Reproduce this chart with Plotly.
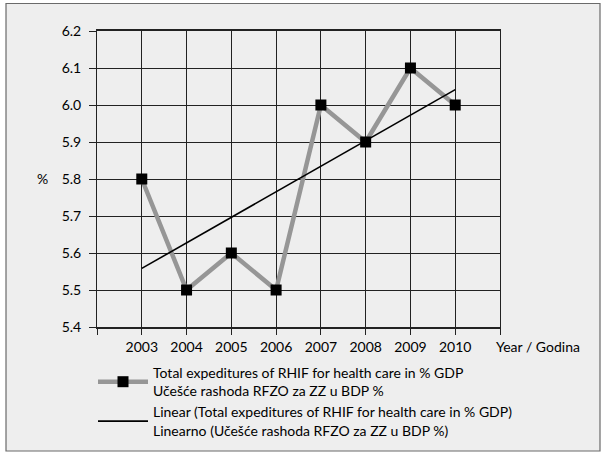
import numpy as np
import plotly.graph_objects as go

years = [2003, 2004, 2005, 2006, 2007, 2008, 2009, 2010]
values = [5.8, 5.5, 5.6, 5.5, 6.0, 5.9, 6.1, 6.0]
y_ticks = [5.4, 5.5, 5.6, 5.7, 5.8, 5.9, 6.0, 6.1, 6.2]
series_name = "Total expeditures of RHIF for health care in % GDP<br>Učešće rashoda RFZO za ZZ u BDP %"
trend_name = "Linear (Total expeditures of RHIF for health care in % GDP)<br>Linearno (Učešće rashoda RFZO za ZZ u BDP %)"
x_title = "Year / Godina"
y_title = "%"

# linear trend computed from the data
idx = np.arange(1, len(values) + 1)
coef = np.polyfit(idx, values, 1)
trend = np.polyval(coef, idx)

W, H = 605, 455
L, R, T, B = 97, 105, 31, 128
pw = W - L - R
ph = H - T - B

FONT = "Lato, 'Open Sans', sans-serif"
FS = 14

fig = go.Figure()
fig.add_trace(go.Scatter(
    x=years, y=values, mode="lines+markers", name=series_name,
    line=dict(color="#969696", width=4.5),
    marker=dict(symbol="square", size=11, color="black"),
))
fig.add_trace(go.Scatter(
    x=years, y=trend, mode="lines", name=trend_name,
    line=dict(color="black", width=1.6),
))

def px2paper_x(px):
    return (px - L) / pw

def px2paper_y(py):
    return 1 - (py - T) / ph

fig.add_shape(type="rect", xref="paper", yref="paper",
              x0=px2paper_x(6), x1=px2paper_x(600), y0=px2paper_y(451), y1=px2paper_y(3.5),
              fillcolor="#EEEEEE", line=dict(color="#6a6a6a", width=1.2), layer="below")

fig.add_annotation(text=x_title, xref="paper", yref="paper",
                   x=px2paper_x(494), y=px2paper_y(336), xanchor="left", yanchor="top",
                   showarrow=False, font=dict(size=FS, color="black", family=FONT))
fig.add_annotation(text=y_title, xref="paper", yref="paper",
                   x=px2paper_x(50), y=px2paper_y(178), xanchor="right", yanchor="middle",
                   showarrow=False, font=dict(size=FS, color="black", family=FONT))

fig.update_xaxes(
    range=[years[0] - 1, years[-1] + 1],
    tickvals=[years[0] - 1] + years + [years[-1] + 1],
    ticktext=[""] + [str(y) for y in years] + [""],
    showgrid=True, gridcolor="#222222", gridwidth=1,
    ticks="outside", ticklen=6, tickcolor="#222222",
    showline=True, linecolor="#222222", linewidth=1.5, mirror=True,
    zeroline=False, tickfont=dict(size=FS, color="black", family=FONT),
)
fig.update_yaxes(
    range=[y_ticks[0], y_ticks[-1]],
    tickvals=y_ticks, tickformat=".1f",
    showgrid=True, gridcolor="#222222", gridwidth=1,
    ticks="outside", ticklen=7, tickcolor="#222222",
    showline=True, linecolor="#222222", linewidth=1, mirror=True,
    zeroline=False, tickfont=dict(size=FS, color="black", family=FONT),
    ticklabelstandoff=5,
)

fig.update_layout(
    width=W, height=H,
    margin=dict(l=L, r=R, t=T, b=B, autoexpand=False),
    paper_bgcolor="white", plot_bgcolor="white",
    font=dict(family=FONT, size=FS, color="black"),
    showlegend=True,
    legend=dict(x=px2paper_x(93), y=px2paper_y(357), xanchor="left", yanchor="top",
                bgcolor="rgba(0,0,0,0)", font=dict(size=FS, family=FONT, color="black"),
                itemwidth=50, tracegroupgap=4),
)

fig.write_html("out.html")
